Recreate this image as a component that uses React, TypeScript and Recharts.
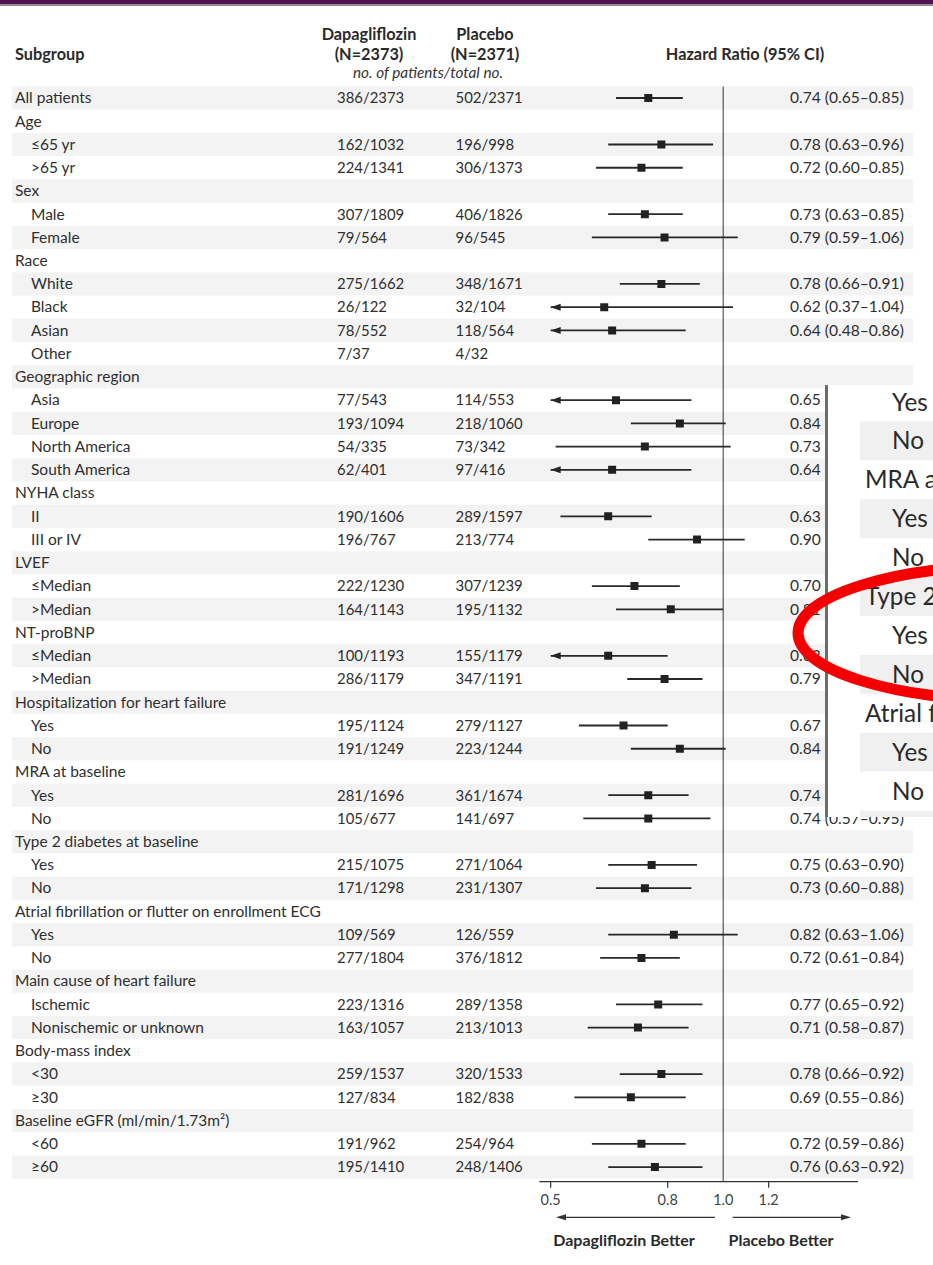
import React from "react";
import { ScatterChart, Scatter, XAxis, YAxis, ZAxis, ErrorBar, ReferenceLine } from "recharts";

const FONT = "Lato, 'Open Sans', 'DejaVu Sans', sans-serif";
const INK = "#2f2f2f";

// Subgroup rows, top to bottom
const rowLabels = [
  "All patients", "Age", "≤65 yr", ">65 yr", "Sex", "Male", "Female", "Race", "White", "Black", "Asian", "Other",
  "Geographic region", "Asia", "Europe", "North America", "South America", "NYHA class", "II", "III or IV",
  "LVEF", "≤Median", ">Median", "NT-proBNP", "≤Median", ">Median", "Hospitalization for heart failure", "Yes", "No",
  "MRA at baseline", "Yes", "No", "Type 2 diabetes at baseline", "Yes", "No",
  "Atrial fibrillation or flutter on enrollment ECG", "Yes", "No", "Main cause of heart failure", "Ischemic",
  "Nonischemic or unknown", "Body-mass index", "<30", "≥30", "Baseline eGFR (ml/min/1.73m²)", "<60", "≥60",
];

// 0 = heading or overall row, 1 = indented category
const rowLevels = [
  0, 0, 1, 1, 0, 1, 1, 0, 1, 1, 1, 1, 0, 1, 1, 1, 1, 0, 1, 1, 0, 1, 1, 0, 1, 1, 0, 1, 1, 0, 1, 1, 0, 1, 1, 0, 1, 1, 0, 1, 1, 0, 1, 1, 0, 1, 1,
];

const dapagliflozinEvents = [
  "386/2373", "", "162/1032", "224/1341", "", "307/1809", "79/564", "", "275/1662", "26/122", "78/552", "7/37",
  "", "77/543", "193/1094", "54/335", "62/401", "", "190/1606", "196/767", "", "222/1230", "164/1143", "",
  "100/1193", "286/1179", "", "195/1124", "191/1249", "", "281/1696", "105/677", "", "215/1075", "171/1298", "",
  "109/569", "277/1804", "", "223/1316", "163/1057", "", "259/1537", "127/834", "", "191/962", "195/1410",
];

const placeboEvents = [
  "502/2371", "", "196/998", "306/1373", "", "406/1826", "96/545", "", "348/1671", "32/104", "118/564", "4/32",
  "", "114/553", "218/1060", "73/342", "97/416", "", "289/1597", "213/774", "", "307/1239", "195/1132", "",
  "155/1179", "347/1191", "", "279/1127", "223/1244", "", "361/1674", "141/697", "", "271/1064", "231/1307", "",
  "126/559", "376/1812", "", "289/1358", "213/1013", "", "320/1533", "182/838", "", "254/964", "248/1406",
];

const hazardRatios: (number | null)[] = [
  0.74, null, 0.78, 0.72, null, 0.73, 0.79, null, 0.78, 0.62, 0.64, null, null, 0.65, 0.84, 0.73, 0.64, null,
  0.63, 0.9, null, 0.7, 0.81, null, 0.63, 0.79, null, 0.67, 0.84, null, 0.74, 0.74, null, 0.75, 0.73, null,
  0.82, 0.72, null, 0.77, 0.71, null, 0.78, 0.69, null, 0.72, 0.76,
];

const ciLower: (number | null)[] = [
  0.65, null, 0.63, 0.6, null, 0.63, 0.59, null, 0.66, 0.37, 0.48, null, null, 0.48, 0.69, 0.51, 0.47, null,
  0.52, 0.74, null, 0.59, 0.65, null, 0.49, 0.68, null, 0.56, 0.69, null, 0.63, 0.57, null, 0.63, 0.6, null,
  0.63, 0.61, null, 0.65, 0.58, null, 0.66, 0.55, null, 0.59, 0.63,
];

const ciUpper: (number | null)[] = [
  0.85, null, 0.96, 0.85, null, 0.85, 1.06, null, 0.91, 1.04, 0.86, null, null, 0.88, 1.01, 1.03, 0.88, null,
  0.75, 1.09, null, 0.84, 1.0, null, 0.8, 0.92, null, 0.8, 1.01, null, 0.87, 0.95, null, 0.9, 0.88, null,
  1.06, 0.84, null, 0.92, 0.87, null, 0.92, 0.86, null, 0.86, 0.92,
];

const axisTicks = [0.5, 0.8, 1.0, 1.2];
const AXIS_MIN = 0.4777;
const AXIS_MAX = 1.718;
const CLIP_LOW = 0.5; // intervals reaching below this end in an arrow

// layout
const W = 933;
const H = 1265;
const PLOT_TOP = 86.4;
const PLOT_BOTTOM = 1181.7;
const ROW_BAND = 23.24;
const Y_MAX = -0.5 + (PLOT_BOTTOM - PLOT_TOP) / ROW_BAND;
const rowIndex = rowLabels.map((_, i) => i);

const estimates = rowIndex
  .filter((i) => hazardRatios[i] != null)
  .map((i) => {
    const hr = hazardRatios[i] as number;
    const lo = Math.max(ciLower[i] as number, CLIP_LOW);
    return { row: i, x: hr, err: [hr - lo, (ciUpper[i] as number) - hr] };
  });

const truncated = rowIndex
  .filter((i) => ciLower[i] != null && (ciLower[i] as number) < CLIP_LOW)
  .map((i) => ({ row: i, x: CLIP_LOW }));

const fmt = (v: number) => v.toFixed(2);
const hrText = (i: number) =>
  `${fmt(hazardRatios[i] as number)} (${fmt(ciLower[i] as number)}–${fmt(ciUpper[i] as number)})`;

function RowTick(props: any) {
  const { y, payload } = props;
  const i = Number(payload.value);
  const base = y + 5.3;
  const common = { fontFamily: FONT, fontSize: 15.5, fill: INK };
  return (
    <g>
      {i % 2 === 0 && (
        <rect x={12} y={y - ROW_BAND / 2} width={901} height={ROW_BAND} fill="#000" fillOpacity={0.047} />
      )}
      <text x={rowLevels[i] ? 31 : 15} y={base} {...common}>
        {rowLabels[i]}
      </text>
      {dapagliflozinEvents[i] && (
        <text x={337} y={base} {...common} fontSize={14.9}>
          {dapagliflozinEvents[i]}
        </text>
      )}
      {placeboEvents[i] && (
        <text x={455.5} y={base} {...common} fontSize={14.9}>
          {placeboEvents[i]}
        </text>
      )}
      {hazardRatios[i] != null && (
        <text x={790} y={base} {...common} fontSize={15.6}>
          {hrText(i)}
        </text>
      )}
    </g>
  );
}

function HrTick(props: any) {
  const { x, y, payload } = props;
  const v = Number(payload.value);
  return (
    <g>
      {v !== 1 && <line x1={x} x2={x} y1={y} y2={y + 6} stroke="#333" strokeWidth={1.2} />}
      <text x={x} y={y + 23} textAnchor="middle" fontFamily={FONT} fontSize={14.5} fill="#444">
        {v.toFixed(1)}
      </text>
    </g>
  );
}

const ArrowHead = (props: any) => {
  const { cx, cy } = props;
  return <path d={`M${cx},${cy} L${cx + 10},${cy - 3.5} L${cx + 10},${cy + 3.5} Z`} fill="#262626" />;
};

// Magnified inset of the subgroup labels around the baseline-therapy rows
const insetRows = rowIndex.filter((i) => i >= 26 && i <= 38);
const INSET_LEFT = 828;
const INSET_TOP = 385;
const INSET_BOTTOM = 817;
const INSET_PITCH = 38.9;
const insetCenter = (i: number) => 402 + (i - 27) * INSET_PITCH - INSET_TOP;

function Inset() {
  return (
    <div
      style={{
        position: "absolute",
        left: INSET_LEFT - 3.5,
        top: INSET_TOP,
        width: W - INSET_LEFT,
        height: INSET_BOTTOM - INSET_TOP,
        background: "#fff",
        borderLeft: "3.5px solid #6c6c6c",
        overflow: "hidden",
      }}
    >
      <svg width={W - INSET_LEFT} height={INSET_BOTTOM - INSET_TOP} style={{ display: "block" }}>
        {insetRows.map((i) => (
          <g key={i}>
            {i % 2 === 0 && (
              <rect x={32} y={insetCenter(i) - INSET_PITCH / 2} width={80} height={INSET_PITCH} fill="#f0f0f0" />
            )}
            <text
              x={rowLevels[i] ? 64 : 37}
              y={insetCenter(i) + 8.5}
              fontFamily={FONT}
              fontSize={24.3}
              fill="#2a2a2a"
            >
              {rowLabels[i]}
            </text>
          </g>
        ))}
      </svg>
    </div>
  );
}

export default function App() {
  const bold = { fontFamily: FONT, fontSize: 16.3, fontWeight: 700, fill: "#2a2a2a" } as const;
  return (
    <div style={{ position: "absolute", left: 0, top: 0, width: W, height: H, background: "#fff", overflow: "hidden" }}>
      <svg width={W} height={H} style={{ position: "absolute", left: 0, top: 0 }}>
        <rect x={0} y={0} width={W} height={4.5} fill="#521353" />
        <rect x={0} y={4.5} width={W} height={1.5} fill="#8e8e8e" />
        <text x={15} y={60} {...bold}>Subgroup</text>
        <text x={369} y={40} textAnchor="middle" {...bold}>Dapagliflozin</text>
        <text x={369} y={60} textAnchor="middle" {...bold}>(N=2373)</text>
        <text x={485} y={40} textAnchor="middle" {...bold}>Placebo</text>
        <text x={485} y={60} textAnchor="middle" {...bold}>(N=2371)</text>
        <text x={428} y={78} textAnchor="middle" fontFamily={FONT} fontSize={15.3} fontStyle="italic" fill="#333">
          no. of patients/total no.
        </text>
        <text x={745} y={60} textAnchor="middle" {...bold}>Hazard Ratio (95% CI)</text>
        <line x1={715} x2={564} y1={1217.3} y2={1217.3} stroke="#333" strokeWidth={1.3} />
        <path d="M556,1217.3 L566,1214.3 L566,1220.3 Z" fill="#333" />
        <line x1={732.7} x2={842} y1={1217.3} y2={1217.3} stroke="#333" strokeWidth={1.3} />
        <path d="M851,1217.3 L841,1214.3 L841,1220.3 Z" fill="#333" />
        <text x={624} y={1245.5} textAnchor="middle" {...bold} fontSize={16}>Dapagliflozin Better</text>
        <text x={781} y={1245.5} textAnchor="middle" {...bold} fontSize={16}>Placebo Better</text>
      </svg>

      <div style={{ position: "absolute", left: 0, top: 0 }}>
        <ScatterChart
          width={W}
          height={H}
          margin={{ top: PLOT_TOP, right: 75, bottom: H - PLOT_BOTTOM - 40, left: 0.3 }}
        >
          <XAxis
            type="number"
            dataKey="x"
            scale="log"
            domain={[AXIS_MIN, AXIS_MAX]}
            allowDataOverflow
            ticks={axisTicks}
            interval={0}
            height={40}
            tickLine={false}
            tickSize={0}
            tickMargin={0}
            axisLine={{ stroke: "#333", strokeWidth: 1.2 }}
            tick={(p: any) => <HrTick {...p} />}
          />
          <YAxis
            type="number"
            dataKey="row"
            domain={[-0.5, Y_MAX]}
            allowDataOverflow
            reversed
            ticks={rowIndex}
            interval={0}
            width={539}
            axisLine={false}
            tickLine={false}
            tick={(p: any) => <RowTick {...p} />}
          />
          <ZAxis range={[52, 52]} />
          <ReferenceLine x={1} stroke="#7a7a7a" strokeWidth={1.5} />
          <Scatter data={estimates} shape="square" fill="#222" isAnimationActive={false}>
            <ErrorBar dataKey="err" direction="x" width={0} stroke="#2a2a2a" strokeWidth={1.8} isAnimationActive={false} />
          </Scatter>
          <Scatter data={truncated} shape={<ArrowHead />} isAnimationActive={false} />
        </ScatterChart>
      </div>

      <Inset />

      <svg width={W} height={H} style={{ position: "absolute", left: 0, top: 0, pointerEvents: "none" }}>
        <ellipse cx={1010} cy={633} rx={212} ry={67} fill="none" stroke="#f50000" strokeWidth={11} />
      </svg>
    </div>
  );
}
